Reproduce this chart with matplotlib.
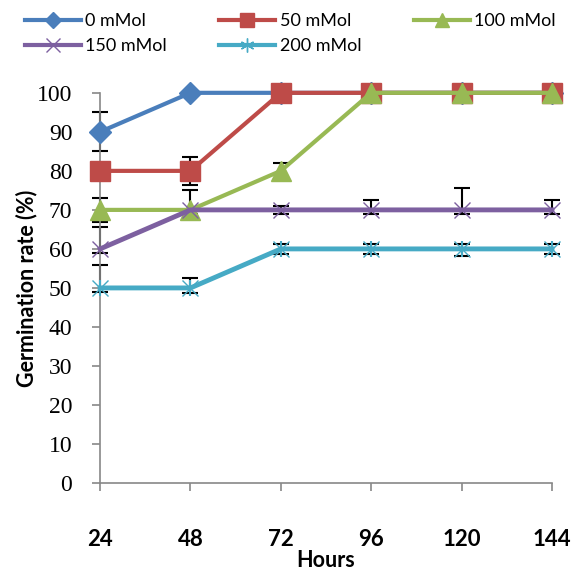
import matplotlib
matplotlib.use("Agg")
import matplotlib.pyplot as plt
from matplotlib.lines import Line2D

hours = [24, 48, 72, 96, 120, 144]
labels = ["0 mMol", "50 mMol", "100 mMol", "150 mMol", "200 mMol"]
s0 = [90, 100, 100, 100, 100, 100]
s50 = [80, 80, 100, 100, 100, 100]
s100 = [70, 70, 80, 100, 100, 100]
s150 = [60, 70, 70, 70, 70, 70]
s200 = [50, 50, 60, 60, 60, 60]
series = [s0, s50, s100, s150, s200]

err_hi = [
    [5, 0, 0, 0, 0, 0],
    [0, 3.6, 0, 0, 0, 0],
    [3, 0, 2, 0, 0, 0],
    [5.6, 5, 1, 2.6, 5.6, 2.6],
    [6, 2.5, 1.3, 1.3, 1.3, 1.3],
]
err_lo = [
    [5, 0, 0, 0, 0, 0],
    [0, 3.6, 0, 0, 0, 0],
    [3, 0, 2, 0, 0, 0],
    [1, 1, 1, 1, 1, 1],
    [1, 1.3, 1.3, 1.3, 1.8, 1.3],
]

colors = ["#4A7EBB", "#BE4B48", "#98B954", "#7D60A0", "#46AAC5"]
markers = ["D", "s", "^", "x", "x"]
msizes = [11, 14, 14, 12, 12]

fig = plt.figure(figsize=(5.72, 5.73), dpi=100)
ax = fig.add_axes([0.175, 0.157, 0.790, 0.681])

for i, (ys, c, m, ms) in enumerate(zip(series, colors, markers, msizes)):
    ax.errorbar(hours, ys, yerr=[err_lo[i], err_hi[i]], fmt="none", ecolor="black",
                elinewidth=1.5, capsize=6, capthick=1.5, zorder=2, clip_on=False)
    if m == "x":
        ax.plot(hours, ys, color=c, lw=3.5, marker=m, ms=ms, mew=1.0,
                mec=c, zorder=3 + i, clip_on=False)
        if i == 4:
            ax.plot(hours, ys, ls="none", marker="|", ms=ms, mew=1.5, mec=c,
                    zorder=3 + i, clip_on=False)
    else:
        ax.plot(hours, ys, color=c, lw=3, marker=m, ms=ms, mfc=c, mec=c,
                zorder=3 + i, clip_on=False)

ax.set_xlim(24, 144)
ax.set_ylim(0, 100)
ax.set_xticks(hours)
ax.set_yticks(range(0, 101, 10))
for sp in ["top", "right"]:
    ax.spines[sp].set_visible(False)
for sp in ["left", "bottom"]:
    ax.spines[sp].set_color("#888888")
    ax.spines[sp].set_linewidth(1.2)
ax.tick_params(axis="both", direction="out", length=6, width=1.2, color="#888888")
ax.tick_params(axis="y", pad=14)
ax.tick_params(axis="x", pad=27)
for t in ax.get_yticklabels():
    t.set_fontfamily("Liberation Serif")
    t.set_fontsize(17)
for t in ax.get_xticklabels():
    t.set_fontfamily("Lato")
    t.set_fontweight("bold")
    t.set_fontsize(16)

ax.set_xlabel("Hours", fontfamily="Lato", fontweight="bold", fontsize=15.5, labelpad=0)
ax.set_ylabel("Germination rate (%)", fontfamily="Lato", fontweight="bold", fontsize=15.5, labelpad=0)

handles = []
for c, m, ms, i in zip(colors, markers, msizes, range(5)):
    if i == 4:
        handles.append(Line2D([], [], color=c, lw=3, marker=(6, 2, 0), ms=10, mec=c, mew=1))
    elif m == "x":
        handles.append(Line2D([], [], color=c, lw=3, marker=m, ms=10, mec=c, mew=1))
    else:
        handles.append(Line2D([], [], color=c, lw=3, marker=m, ms=ms * 0.75, mfc=c, mec=c))

order = [0, 3, 1, 4, 2]
leg = fig.legend([handles[k] for k in order], [labels[k] for k in order], ncol=3,
                 loc="upper left", bbox_to_anchor=(0.015, 1.005),
                 frameon=False, prop={"family": "Lato", "size": 13},
                 handlelength=3.1, handletextpad=0.25, columnspacing=2.9, labelspacing=0.5)

fig.savefig("out.png", dpi=100)
